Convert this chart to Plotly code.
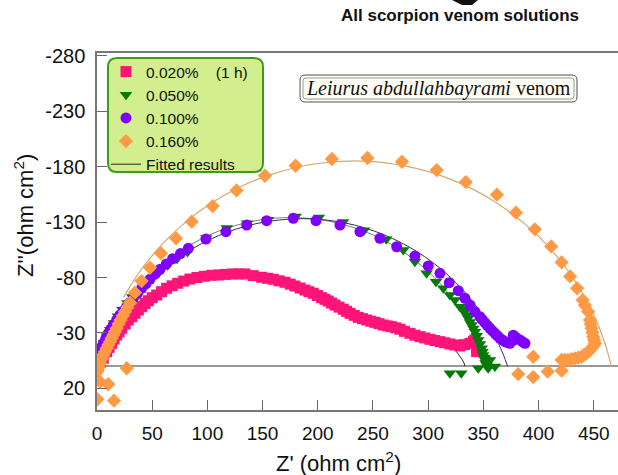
import plotly.graph_objects as go

# ---------------- data ----------------
pink_x = [1, 3, 5.7, 8.8, 11, 13.3, 15.5, 17.8, 20, 22.4, 25.5, 28.4, 31.5, 34.4, 37.5, 40.5, 43.5,
          46.5, 50, 54.1, 58.5, 63.1, 68, 73.1, 78.5, 84.2, 90.5, 97.2, 104, 110.5, 116.5, 122.9,
          128.5, 134, 141.5, 149.2, 154.5, 159.7, 165, 170.3, 175, 179.3, 184, 188.4, 192, 195.9,
          199.7, 203.5, 206.5, 209.5, 212.5, 215.6, 219.3, 223.1, 226.2, 229.2, 233, 236.7, 240.5,
          244.3, 248, 251.8, 255.5, 259.3, 263, 266.9, 270.7, 274.5, 278.5, 283.5, 288, 292.6, 297,
          301.6, 306, 310.7, 315, 319.7, 324, 328.8, 333, 337.9, 341, 342.4, 343.5, 343.9, 344, 343.9]
pink_y = [-1, -4, -7.2, -13.2, -17, -20.7, -24.5, -28.2, -31, -34.2, -38, -41.7, -44.7, -47.7, -50.7,
          -53.7, -56.5, -59.1, -61.8, -64.2, -67.2, -70.3, -72.5, -74.8, -76.8, -78.6, -80, -81.1, -82,
          -82.3, -82.8, -83.2, -83.2, -83.2, -81.7, -80.2, -79.3, -78.4, -77, -75.7, -74, -72.3, -70.5,
          -68.7, -67.2, -65.8, -63.8, -61.8, -60.3, -58.8, -57, -55.2, -53.3, -51.4, -49.5, -47.7,
          -45.9, -44.1, -42.9, -41.7, -40.6, -39.6, -38.4, -37.2, -36.4, -35.7, -34.6, -33.4, -31.5,
          -29.7, -28, -26.7, -25.5, -24.3, -23.2, -22.2, -21.2, -20.1, -19.2, -18.3, -19.5, -20.7,
          -22.5, -23.7, -20, -17.7, -15.5, -13.2]

green_x = [0.5, 2, 4, 6.5, 9, 12, 15.5, 19, 23, 27.5, 32, 37.5, 43, 49.5, 56.5, 64, 72.5, 82, 99,
           117.5, 136, 155, 180, 201, 223, 242, 262, 277.5, 288, 298.6, 307.1,
           313.7, 319.7, 324.3, 328.8, 331, 333.3, 334.8, 336.3, 337.8, 339.4, 341, 342.4, 344,
           345.4, 347, 348.5, 349.2, 349.9, 350.7, 351.4, 352, 353, 351.4, 356, 345.4, 354.4,
           360.5, 330, 319.7]
green_y = [-3, -9, -15, -21, -27, -33, -39, -45, -51, -57, -62.5, -68, -73.5, -79, -85, -91, -97,
           -103, -115.5, -124.5, -128.8, -132, -135, -134, -130, -122.5, -114.4,
           -104.8, -94.2, -83.8, -76.2, -70.3, -64.2, -59.7, -53.7, -51.5, -49.2, -46, -43.2, -40,
           -37.2, -34, -31.2, -27.5, -23.7, -20, -16.2, -13, -10.2, -8, -5.7, -3, -1, -7.2, -5.7,
           1.8, 1.8, 0.3, 6.3, 6.3]

purple_x = [0, 0.5, 1.5, 2.7, 4, 5.7, 8, 10.2, 12.5, 14.8, 17.8, 20.8, 23.8, 26.9, 29.9, 32.9, 36.7,
            40.5, 44.3, 48, 52.5, 57.1, 62.8, 68.5, 75.6, 82.7, 98.7, 116.8, 135.6, 153.7, 177.8,
            198.4, 220.1, 238.2, 256.3, 271.5, 288, 300.1, 310.7, 319.1, 327.3, 333.3, 337.9, 342.4,
            346.9, 349, 351.4, 353.7, 356, 358.2, 360.5, 362.7, 365, 367.3, 369.6, 372, 374.1,
            376.5, 377.1, 378.6, 380.5, 383.2, 385.5, 387.7]
purple_y = [-2, -5.7, -9.5, -13.2, -17, -20.7, -25.2, -29.7, -33.5, -37.2, -41.7, -46.2, -50, -53.7,
            -57.5, -61.3, -65.8, -70.3, -74.3, -78.4, -83, -87.4, -92.2, -96.9, -101.6, -106.3,
            -114.7, -121.3, -127.3, -131.2, -133.3, -131.2, -127.3, -121.3, -115.3, -107.7, -99.4,
            -90.4, -83.8, -75.3, -68.1, -61.3, -55.2, -49.2, -44.7, -42, -39.3, -36.7, -34.2, -32,
            -29.7, -27.5, -25.2, -23.7, -22.2, -21.4, -20.7, -23, -28, -26.7, -25, -23.7, -22, -20.7]

orange_x = [0.3, 15.4, 2.7, 10.2, 0.3, 26.9, 1.5, 2.7, 4.2, 5.7, 7.2, 8.8, 10.3, 11.8, 13.3, 14.8,
            16.3, 17.8, 19.6, 21.4, 23.4, 25.4, 27.6, 29.9, 34.4, 40.4, 48, 58, 71.6, 85.8, 104.8,
            126.4, 152.1, 179.9, 212.8, 245, 276.3, 307.7, 334.1, 362.3, 379.5, 396.7, 411.5,
            420.9, 428.6, 435, 440, 442, 445, 446.6, 447.3, 448, 448.8, 449.6, 450.3, 451.1, 450,
            448.1, 446, 443.5, 441, 439, 436, 433, 430, 426.9, 424, 420.9, 420.9, 408.3, 395.2,
            381.6, 395.2]
orange_y = [29.7, 31, 13.9, 16.2, 4.8, 1.8, 1, -2.7, -6.5, -10.2, -13.2, -16.2, -19.2, -22.2, -25.2,
            -28.2, -31.2, -34.2, -38, -41.7, -45.5, -49.2, -53, -57.3, -66.3, -76.8, -88.8, -101.8,
            -115.3, -130.3, -144.4, -158.5, -171.7, -180.7, -186.8, -187.7, -184.3, -176.8, -166,
            -154.6, -138.4, -123.4, -108, -93.7, -81, -70.3, -59.7, -55, -49.2, -41.7, -38, -34.2,
            -30.5, -26.7, -23.7, -20.7, -18.5, -16.2, -14, -11.7, -10, -8.6, -7.8, -7.2, -6.5, -5.7,
            -5.7, -5.7, 4, 4.8, 9.7, 7, -8.6]

# fitted curves
fit_pink_x = [0, 3, 8, 15, 25, 38, 55, 75, 100, 125, 150, 175, 200, 225, 250, 275, 300, 315, 322,
              328, 332, 333.5]
fit_pink_y = [0, -5, -13, -24, -38, -52, -65, -75, -81, -83, -80, -74, -63, -50, -40, -33, -25, -21,
              -17, -10, -4, 0]
fit_green_x = [0, 5, 10, 20, 35, 55, 80, 110, 145, 176, 210, 245, 275, 300, 320, 335, 345, 350, 352]
fit_green_y = [0, -15.4, -27.5, -46.3, -67.4, -88.2, -106.7, -121.7, -131.4, -134, -130.8, -120.5,
               -104.8, -85.4, -63.7, -41.2, -20.6, -6.8, 0]
fit_purple_x = [0, 5, 10, 20, 35, 55, 80, 110, 145, 186, 225, 260, 290, 315, 335, 350, 362, 368, 372]
fit_purple_y = [0, -13.2, -24, -41.7, -62.3, -83, -102, -117.7, -128.7, -133, -129.1, -118.5, -103.2,
                -84.8, -64.7, -44.8, -24, -10.8, 0]
fit_orange_x = [24, 40, 60, 80, 100, 130, 160, 200, 240, 280, 320, 360, 400, 430, 450, 460, 466]
fit_orange_y = [-62.1, -87.1, -111, -129.7, -144.6, -161.7, -173.6, -182.7, -184.9, -180.3, -168.6,
                -148.5, -117.1, -81.5, -46.4, -21.2, 0]

x_ticks = [0, 50, 100, 150, 200, 250, 300, 350, 400, 450]
y_ticks = [-280, -230, -180, -130, -80, -30, 20]
y_tick_text = ["-280", "-230", "-180", "-130", "-80", "-30", "20"]

series_names = ["0.020%\u00a0\u00a0\u00a0\u00a0(1 h)", "0.050%", "0.100%", "0.160%"]
fit_name = "Fitted results"

# ---------------- layout helpers ----------------
L, R, T, B = 97, 618, 53, 410
W, H = R - L, B - T


def px(xp):
    return (xp - L) / W


def py(yp):
    return (B - yp) / H


def rounded_path(x0, y0, x1, y1, r):
    rx, ry = r / W, r / H
    a, b, c, d = px(x0), py(y0), px(x1), py(y1)
    return (f"M {a+rx},{b} L {c-rx},{b} Q {c},{b} {c},{b-ry} L {c},{d+ry} Q {c},{d} {c-rx},{d} "
            f"L {a+rx},{d} Q {a},{d} {a},{d+ry} L {a},{b-ry} Q {a},{b} {a+rx},{b} Z")


FONT = "Arial, Liberation Sans, sans-serif"

fig = go.Figure()

# fitted lines first (drawn beneath the symbols)
fig.add_trace(go.Scatter(x=fit_pink_x, y=fit_pink_y, mode="lines", name=fit_name, legendrank=1000,
                         line=dict(color="#222222", width=1, shape="spline")))
fig.add_trace(go.Scatter(x=fit_green_x, y=fit_green_y, mode="lines", showlegend=False,
                         line=dict(color="#7a7a7a", width=1, shape="spline")))
fig.add_trace(go.Scatter(x=fit_purple_x, y=fit_purple_y, mode="lines", showlegend=False,
                         line=dict(color="#2c2c60", width=1, shape="spline")))
fig.add_trace(go.Scatter(x=fit_orange_x, y=fit_orange_y, mode="lines", showlegend=False,
                         line=dict(color="#d6a870", width=1.2, shape="spline")))

fig.add_trace(go.Scatter(x=pink_x, y=pink_y, mode="markers", name=series_names[0], legendrank=1,
                         marker=dict(symbol="square", size=11, color="#ff1478")))
fig.add_trace(go.Scatter(x=green_x, y=green_y, mode="markers", name=series_names[1], legendrank=2,
                         marker=dict(symbol="triangle-down", size=11, color="#067a06")))
fig.add_trace(go.Scatter(x=purple_x, y=purple_y, mode="markers", name=series_names[2], legendrank=3,
                         marker=dict(symbol="circle", size=11, color="#8000ff")))
fig.add_trace(go.Scatter(x=orange_x, y=orange_y, mode="markers", name=series_names[3], legendrank=4,
                         marker=dict(symbol="diamond", size=11, color="#ff9944")))

shapes = [
    dict(type="path", xref="paper", yref="paper", path=rounded_path(108, 58, 263, 172, 9),
         fillcolor="#d3ee8e", line=dict(color="#3c9a1e", width=2), layer="above"),
    dict(type="path", xref="paper", yref="paper", path=rounded_path(300, 75, 577, 102, 5),
         fillcolor="#fdfdf4", line=dict(color="#555555", width=1), layer="above"),
    dict(type="path", xref="paper", yref="paper", path=rounded_path(303, 78, 574, 99, 3),
         fillcolor="rgba(0,0,0,0)", line=dict(color="#9a9a9a", width=1), layer="above"),
    dict(type="path", xref="paper", yref="paper",
         path=f"M {px(452)},{py(0)} L {px(478)},{py(0)} L {px(472)},{py(5)} L {px(462)},{py(5)} Z",
         fillcolor="#111111", line=dict(width=0), layer="above"),
]

annotations = [
    dict(text="<b>All scorpion venom solutions</b>", xref="paper", yref="paper", x=px(460),
         y=py(16), showarrow=False, font=dict(family=FONT, size=17, color="#111111"),
         xanchor="center", yanchor="middle"),
    dict(text="<i>Leiurus abdullahbayrami</i> venom", xref="paper", yref="paper", x=px(438),
         y=py(88.5), showarrow=False, xanchor="center", yanchor="middle",
         font=dict(family="Liberation Serif, Times New Roman, serif", size=20, color="#111111")),
    dict(text="Z' (ohm cm<sup>2</sup>)", xref="paper", yref="paper", x=px(338), y=py(462),
         showarrow=False, xanchor="center", yanchor="middle",
         font=dict(family=FONT, size=22, color="#111111")),
    dict(text="Z''(ohm cm<sup>2</sup>)", xref="paper", yref="paper", x=px(24), y=py(216),
         showarrow=False, xanchor="center", yanchor="middle", textangle=-90,
         font=dict(family=FONT, size=22, color="#111111")),
]

fig.update_layout(
    width=618, height=475,
    margin=dict(l=L, r=0, t=T, b=475 - B),
    paper_bgcolor="white", plot_bgcolor="white",
    font=dict(family=FONT, color="#111111"),
    showlegend=True,
    legend=dict(x=px(106), y=py(55), xanchor="left", yanchor="top",
                bgcolor="rgba(0,0,0,0)", borderwidth=0,
                font=dict(family=FONT, size=15.5, color="#111111"),
                tracegroupgap=0, itemwidth=30),
    shapes=shapes,
    annotations=annotations,
)

fig.update_xaxes(range=[0, 472], tickvals=x_ticks, ticks="inside", ticklen=10, tickwidth=1,
                 tickcolor="#666666", showline=True, linecolor="#777777", linewidth=1.5,
                 mirror=True, showgrid=False, zeroline=False, ticklabelstandoff=5,
                 tickfont=dict(family=FONT, size=19, color="#111111"))
fig.update_yaxes(range=[39.4, -282.3], tickvals=y_ticks, ticktext=y_tick_text, ticks="inside",
                 ticklen=10, tickwidth=1, tickcolor="#666666", showline=True,
                 linecolor="#777777", linewidth=1.5, mirror=False, showgrid=False,
                 zeroline=True, zerolinecolor="#999999", zerolinewidth=1.5, ticklabelstandoff=6,
                 tickfont=dict(family=FONT, size=20, color="#111111"))

fig.write_html("out.html", config=dict(displayModeBar=False))
